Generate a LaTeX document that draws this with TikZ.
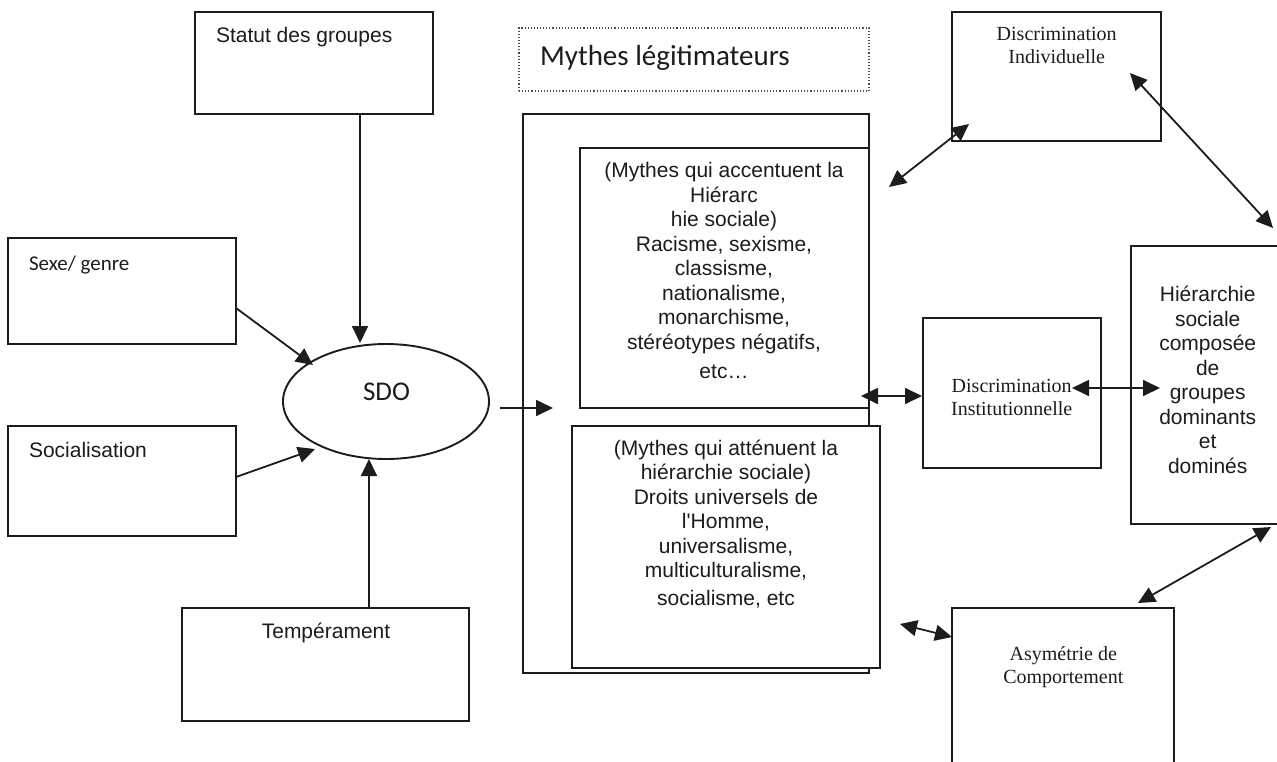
\documentclass[tikz,border=0pt]{standalone}
\usepackage{fontspec}
\usetikzlibrary{arrows.meta,fit,shapes.geometric}
\newfontfamily\fA{Liberation Sans}
\newfontfamily\fAplain{Liberation Sans}[Ligatures=TeXOff]
\newfontfamily\fC{Carlito}
\newfontfamily\fT{Liberation Serif}
\definecolor{ink}{RGB}{30,27,28}
\begin{document}
\begin{tikzpicture}[x=1pt,y=-1pt,
  box/.style={draw=ink, line width=2.2pt, fill=white, inner sep=0pt, outer sep=0pt},
  dotbox/.style={draw=ink!80, line width=1.1pt, dotted, inner sep=0pt, outer sep=0pt},
  lbl/.style={inner sep=0pt, outer sep=0pt, text=ink},
  sans/.style={font=\fA\fontsize{21}{24.5}\selectfont},
  cal/.style={font=\fC\fontsize{#1}{#1}\selectfont},
  serif/.style={font=\fT\fontsize{20}{23.3}\selectfont},
  tip/.tip={Triangle[length=17pt,width=16pt]},
  conn/.style={draw=ink, line width=1.8pt, -tip},
  bi/.style={draw=ink, line width=1.8pt, tip-tip},
]
\useasboundingbox (0,0) rectangle (1277,761);
\clip (0,0) rectangle (1277,761);
\fill[white] (0,0) rectangle (1277,761);

% left boxes
\node[box, fit={(195,12) (433,114)}] (statut) {};
\node[box, fit={(8,238) (236,344)}] (sexe) {};
\node[box, fit={(8,426) (236,536)}] (social) {};
\node[box, fit={(182,608) (469,721)}] (temper) {};
\node[ellipse, draw=ink, line width=1.9pt, minimum width=206pt, minimum height=115pt, inner sep=0pt] (sdo) at (386,401.5) {};

% mythes
\node[dotbox, fit={(519,28) (869,91)}] (mytitle) {};
\node[box, fit={(523,114) (869,673)}] (outer) {};
\node[box, fit={(580,148) (869,408)}] (mtop) {};
\node[box, fit={(572,426) (880,668)}] (mbot) {};

% right boxes
\node[box, fit={(952,12) (1161,141)}] (dind) {};
\node[box, fit={(923,318) (1101,468)}] (dinst) {};
\node[box, fit={(1131,246) (1290,524)}] (hier) {};
\node[box, fit={(952,608) (1174,780)}] (asym) {};

% texts
\node[lbl, sans, anchor=base west] (tStatut) at (216,42.5) {Statut des groupes};
\node[lbl, cal=21, anchor=base west] (tSexe) at (29,270) {Sexe/ genre};
\node[lbl, sans, anchor=base west] (tSoc) at (29,457) {Socialisation};
\node[lbl, sans, anchor=base] (tTemp) at (326,638) {Tempérament};
\node[lbl, cal=27, anchor=base] (tSDO) at (386.5,400) {SDO};
\node[lbl, cal=29, anchor=base west] (tMythes) at (540,65) {Mythes légitimateurs};

\node[lbl, sans, align=center, anchor=north] (tTop) at (724,162.7)
  {(Mythes qui accentuent la\\Hiérarc\\hie sociale)\\Racisme, sexisme,\\classisme,\\nationalisme,\\monarchisme,\\stéréotypes négatifs,\\[4.5pt]etc…};
\node[lbl, sans, align=center, anchor=north] (tBot) at (726,439.7)
  {(Mythes qui atténuent la\\hiérarchie sociale)\\Droits universels de\\l{\fAplain'}Homme,\\universalisme,\\multiculturalisme,\\[3.5pt]socialisme, etc};
\node[lbl, sans, align=center, anchor=north] (tHier) at (1207.7,286.5)
  {Hiérarchie\\sociale\\composée\\de\\groupes\\dominants\\et\\dominés};
\node[lbl, serif, align=center, anchor=north] (tDind) at (1056.7,27) {Discrimination\\Individuelle};
\node[lbl, serif, align=center, anchor=north] (tDinst) at (1011.7,379.3) {Discrimination\\Institutionnelle};
\node[lbl, serif, align=center, anchor=north] (tAsym) at (1063.3,646.3) {Asymétrie de\\Comportement};

% connector end points
\coordinate (c1a) at (360,114);  \coordinate (c1b) at (360,343);
\coordinate (c2a) at (236,308);  \coordinate (c2b) at (313,365);
\coordinate (c3a) at (236,477);  \coordinate (c3b) at (315,449);
\coordinate (c4a) at (369,608);  \coordinate (c4b) at (369,459);
\coordinate (c5a) at (500,408);  \coordinate (c5b) at (553,408);
\coordinate (c6a) at (889,187);  \coordinate (c6b) at (969,124);
\coordinate (c7a) at (1130,73);  \coordinate (c7b) at (1273,228);
\coordinate (c8a) at (861,396);  \coordinate (c8b) at (922,396);
\coordinate (c9a) at (1072,388); \coordinate (c9b) at (1160,388);
\coordinate (c10a) at (900,624); \coordinate (c10b) at (952,637);
\coordinate (c11a) at (1138,603); \coordinate (c11b) at (1271,527);

\draw[conn] (c1a) -- (c1b);
\draw[conn] (c2a) -- (c2b);
\draw[conn] (c3a) -- (c3b);
\draw[conn] (c4a) -- (c4b);
\draw[conn] (c5a) -- (c5b);
\draw[bi] (c6a) -- (c6b);
\draw[bi] (c7a) -- (c7b);
\draw[bi] (c8a) -- (c8b);
\draw[bi] (c9a) -- (c9b);
\draw[bi] (c10a) -- (c10b);
\draw[bi] (c11a) -- (c11b);
\end{tikzpicture}
\end{document}
